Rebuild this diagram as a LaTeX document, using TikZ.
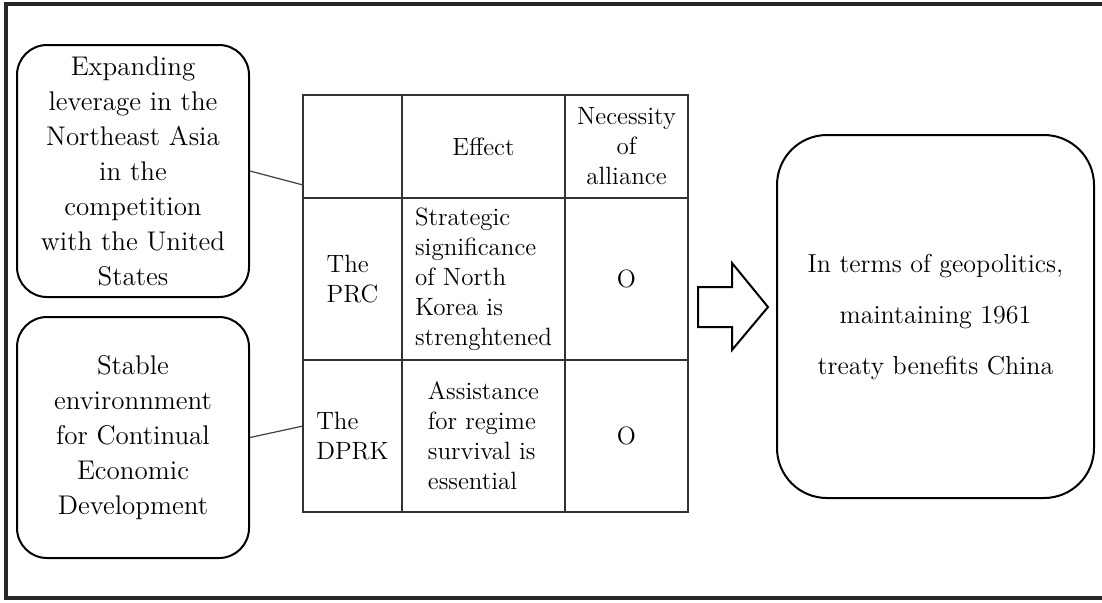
\documentclass[tikz,border=0pt]{standalone}
\usepackage{tikz}
\usetikzlibrary{positioning}

\begin{document}
\begin{tikzpicture}[
    x=0.5pt, y=-0.5pt,
    reason/.style={draw, line width=1pt, rounded corners=15pt, align=center, inner sep=0pt, minimum width=116pt, font=\fontsize{13.5}{17.5}\selectfont},
    result/.style={draw, line width=1pt, rounded corners=25pt, align=center, inner sep=0pt, minimum width=158.5pt, minimum height=181.5pt, font=\fontsize{13}{25.5}\selectfont},
    cell/.style={draw=black!80, line width=0.6pt, inner sep=0pt, align=center, font=\fontsize{12.5}{15}\selectfont},
    colA/.style={cell, minimum width=49.5pt},
    colB/.style={cell, minimum width=81.5pt},
    colC/.style={cell, minimum width=61.5pt},
    rowA/.style={minimum height=51.5pt},
    rowB/.style={minimum height=81pt},
    rowC/.style={minimum height=76pt},
    link/.style={draw=black!75, line width=0.6pt},
    bigarrow/.style={draw, line width=1pt, line join=miter, fill=white}
]
\useasboundingbox (0,0) rectangle (1102,602);
\draw[line width=1.6pt, black!85] (6,4) rectangle (1112,598);

% left boxes
\node[reason, minimum height=126pt] (exp) at (133,171) {Expanding\\leverage in the\\Northeast Asia\\in the\\competition\\with the United\\States};
\node[reason, minimum height=120.5pt] (stab) at (133,437.5) {Stable\\environnment\\for Continual\\Economic\\Development};

% table
\node[colA, rowA] (c00) at (352.5,146.5) {};
\node[colB, rowA] (c01) at (483.5,146.5) {Effect};
\node[colC, rowA] (c02) at (626.5,146.5) {Necessity\\of\\alliance};
\node[colA, rowB, align=left] (c10) at (352.5,279) {The\\PRC};
\node[colB, rowB, align=left] (c11) at (483.5,279) {Strategic\\significance\\of North\\Korea is\\strenghtened};
\node[colC, rowB] (c12) at (626.5,279) {O};
\node[colA, rowC, align=left] (c20) at (352.5,436) {The\\DPRK};
\node[colB, rowC, align=left] (c21) at (483.5,436) {Assistance\\for regime\\survival is\\essential};
\node[colC, rowC] (c22) at (626.5,436) {O};

\coordinate (j1) at (303,185);
\coordinate (j2) at (303,426);
\draw[link] (exp.east) -- (j1);
\draw[link] (stab.east) -- (j2);

% conclusion
\draw[bigarrow] (698,287) -- (732,287) -- (732,263) -- (768,307) -- (732,350) -- (732,327) -- (698,327) -- cycle;
\node[result] (geo) at (935.5,316.5) {In terms of geopolitics,\\maintaining 1961\\treaty benefits China};
\end{tikzpicture}
\end{document}
